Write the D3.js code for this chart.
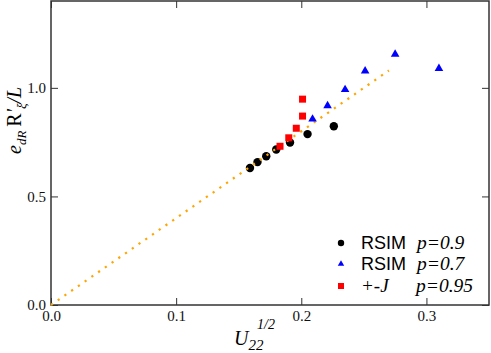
<!DOCTYPE html>
<html>
<head>
<meta charset="utf-8">
<script src="https://cdn.jsdelivr.net/npm/d3@7"></script>
<style>
  body { margin: 0; background: #fff; }
  svg { display: block; }
</style>
</head>
<body>
<div id="chart"></div>
<script>
// RSIM p=0.9
const rsim09X = [0.159, 0.165, 0.172, 0.180, 0.191, 0.205, 0.226];
const rsim09Y = [0.631, 0.658, 0.685, 0.716, 0.748, 0.787, 0.823];
// RSIM p=0.7
const rsim07X = [0.209, 0.221, 0.235, 0.251, 0.275, 0.310];
const rsim07Y = [0.856, 0.918, 0.992, 1.078, 1.155, 1.089];
// +-J p=0.95
const pmJX = [0.183, 0.190, 0.196, 0.201, 0.201];
const pmJY = [0.731, 0.770, 0.814, 0.870, 0.948];
// dotted guide line
const guideX = [0.0, 0.27];
const guideY = [0.0, 1.08];

const xTicks = [0.0, 0.1, 0.2, 0.3];
const yTicks = [0.0, 0.5, 1.0];

const width = 491;
const height = 353;
const margin = { top: 1, right: 2, bottom: 48, left: 51 };
const w = width - margin.left - margin.right;
const h = height - margin.top - margin.bottom;

const svg = d3.select("#chart")
    .append("svg")
    .attr("width", width)
    .attr("height", height);

const g = svg.append("g")
    .attr("transform", `translate(${margin.left},${margin.top})`);

const x = d3.scaleLinear().domain([0, 0.35]).range([0, w]);
const y = d3.scaleLinear().domain([0, 1.4]).range([h, 0]);

const serif = "'Liberation Serif', 'Times New Roman', serif";
const sans = "'Liberation Sans', Arial, sans-serif";

// axes with inward ticks, mirrored
function styleAxis(sel) {
    sel.attr("font-family", null).attr("font-size", null);
    sel.select(".domain").remove();
    sel.selectAll("line").attr("stroke", "#333").attr("stroke-width", 1);
    sel.selectAll("text")
        .style("font-family", serif)
        .style("font-size", "15px")
        .attr("fill", "#111");
}

g.append("g")
    .attr("transform", `translate(0,${h})`)
    .call(d3.axisBottom(x).tickValues(xTicks).tickFormat(d3.format(".1f"))
        .tickSizeInner(-7).tickSizeOuter(0).tickPadding(5))
    .call(styleAxis);

g.append("g")
    .call(d3.axisTop(x).tickValues(xTicks).tickFormat("")
        .tickSizeInner(-7).tickSizeOuter(0))
    .call(styleAxis);

g.append("g")
    .call(d3.axisLeft(y).tickValues(yTicks).tickFormat(d3.format(".1f"))
        .tickSizeInner(-7).tickSizeOuter(0).tickPadding(5))
    .call(styleAxis);

g.append("g")
    .attr("transform", `translate(${w},0)`)
    .call(d3.axisRight(y).tickValues(yTicks).tickFormat("")
        .tickSizeInner(-7).tickSizeOuter(0))
    .call(styleAxis);

g.append("rect")
    .attr("x", 0).attr("y", 0)
    .attr("width", w).attr("height", h)
    .attr("fill", "none")
    .attr("stroke", "#333")
    .attr("stroke-width", 1.5);

// black circles
g.selectAll(".c09")
    .data(rsim09X.map((d, i) => [d, rsim09Y[i]]))
    .enter()
    .append("circle")
    .attr("cx", d => x(d[0]))
    .attr("cy", d => y(d[1]))
    .attr("r", 4.2)
    .attr("fill", "#000");

// orange dotted line
g.append("path")
    .datum(guideX.map((d, i) => [d, guideY[i]]))
    .attr("d", d3.line().x(d => x(d[0])).y(d => y(d[1])))
    .attr("fill", "none")
    .attr("stroke", "#ffa500")
    .attr("stroke-width", 2.2)
    .attr("stroke-dasharray", "2.2,6");

// blue triangles
const tri = d3.symbol().type(d3.symbolTriangle).size(32);
g.selectAll(".c07")
    .data(rsim07X.map((d, i) => [d, rsim07Y[i]]))
    .enter()
    .append("path")
    .attr("d", tri)
    .attr("transform", d => `translate(${x(d[0])},${y(d[1])})`)
    .attr("fill", "#0000ff");

// red squares
g.selectAll(".pmj")
    .data(pmJX.map((d, i) => [d, pmJY[i]]))
    .enter()
    .append("rect")
    .attr("x", d => x(d[0]) - 3.5)
    .attr("y", d => y(d[1]) - 3.5)
    .attr("width", 7)
    .attr("height", 7)
    .attr("fill", "#ff0000");

// legend
const legend = svg.append("g");
const rows = [
    { label: "RSIM", italicLabel: false, p: "p=0.9", y: 243, mark: "circle" },
    { label: "RSIM", italicLabel: false, p: "p=0.7", y: 264, mark: "triangle" },
    { label: "+-J", italicLabel: true, p: "p=0.95", y: 286, mark: "square" }
];
rows.forEach(r => {
    if (r.mark === "circle") {
        legend.append("circle").attr("cx", 341).attr("cy", r.y).attr("r", 3.2).attr("fill", "#000");
    } else if (r.mark === "triangle") {
        legend.append("path").attr("d", d3.symbol().type(d3.symbolTriangle).size(18)())
            .attr("transform", `translate(341,${r.y})`).attr("fill", "#0000ff");
    } else {
        legend.append("rect").attr("x", 338).attr("y", r.y - 3).attr("width", 6).attr("height", 6).attr("fill", "#ff0000");
    }
    legend.append("text")
        .attr("x", 361).attr("y", r.y + 6)
        .attr("font-family", r.italicLabel ? serif : sans)
        .attr("font-style", r.italicLabel ? "italic" : "normal")
        .attr("font-size", r.italicLabel ? "19px" : "18px")
        .text(r.label);
    legend.append("text")
        .attr("x", r.p === "p=0.95" ? 416 : 417).attr("y", r.y + 6)
        .attr("font-family", serif)
        .attr("font-style", "italic")
        .attr("font-size", "19.5px")
        .text(r.p);
});

// x axis label: U_22^(1/2)
const xl = svg.append("text")
    .attr("x", 234).attr("y", 345)
    .attr("font-family", serif)
    .attr("font-style", "italic")
    .attr("font-size", "20px");
xl.append("tspan").text("U");
xl.append("tspan").attr("dy", 5).attr("font-size", "15px").text("22");
xl.append("tspan").attr("x", 257).attr("y", 329).attr("font-size", "14px").text("1/2");

// y axis label: e_dR R'_ξ /L
const yl = svg.append("text")
    .attr("transform", "translate(21,154) rotate(-90)")
    .attr("font-family", serif)
    .attr("font-style", "italic")
    .attr("font-size", "20px");
yl.append("tspan").text("e");
yl.append("tspan").attr("dy", 5).attr("font-size", "13px").text("dR");
yl.append("tspan").attr("dy", -5).attr("dx", 4).attr("font-style", "normal").text("R");
yl.append("tspan").text("'");
yl.append("tspan").attr("dy", 5).attr("font-size", "13px").text("ξ");
yl.append("tspan").attr("dy", -5).text("/L");
</script>
</body>
</html>
